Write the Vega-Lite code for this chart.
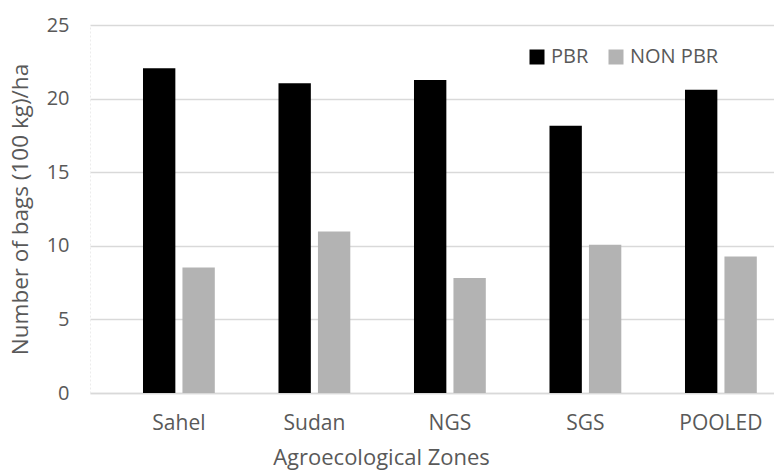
{
  "$schema": "https://vega.github.io/schema/vega-lite/v6.json",
  "autosize": {"type": "none"},
  "width": 684,
  "height": 368,
  "padding": {"left": 90, "top": 25, "right": 0, "bottom": 80},
  "background": "white",
  "config": {
    "font": "Open Sans",
    "view": {"stroke": null}
  },
  "data": {
    "values": [
      {"zone": "Sahel", "group": "PBR", "bags": 22.06},
      {"zone": "Sahel", "group": "NON PBR", "bags": 8.53},
      {"zone": "Sudan", "group": "PBR", "bags": 21.04},
      {"zone": "Sudan", "group": "NON PBR", "bags": 10.97},
      {"zone": "NGS", "group": "PBR", "bags": 21.27},
      {"zone": "NGS", "group": "NON PBR", "bags": 7.81},
      {"zone": "SGS", "group": "PBR", "bags": 18.15},
      {"zone": "SGS", "group": "NON PBR", "bags": 10.07},
      {"zone": "POOLED", "group": "PBR", "bags": 20.6},
      {"zone": "POOLED", "group": "NON PBR", "bags": 9.27}
    ]
  },
  "mark": {"type": "bar"},
  "encoding": {
    "x": {
      "field": "zone",
      "type": "nominal",
      "sort": ["Sahel", "Sudan", "NGS", "SGS", "POOLED"],
      "scale": {"paddingInner": 0.47, "paddingOuter": 0.259, "align": 0.755},
      "axis": {
        "title": "Agroecological Zones",
        "titleFont": "Open Sans",
        "titleFontSize": 22,
        "titleFontWeight": "normal",
        "titleColor": "#595959",
        "titleX": 291,
        "titleY": 54,
        "titleAlign": "center",
        "titleBaseline": "top",
        "labelAngle": 0,
        "labelFontSize": 21,
        "labelColor": "#595959",
        "labelPadding": 19,
        "ticks": false,
        "domainColor": "#d9d9d9",
        "domainWidth": 1.5
      }
    },
    "xOffset": {
      "field": "group",
      "type": "nominal",
      "sort": ["PBR", "NON PBR"],
      "scale": {"paddingInner": 0.18, "paddingOuter": 0}
    },
    "y": {
      "field": "bags",
      "type": "quantitative",
      "scale": {"domain": [0, 25]},
      "axis": {
        "title": "Number of bags (100 kg)/ha",
        "titleFontSize": 22.5,
        "titleFontWeight": "normal",
        "titleColor": "#595959",
        "titlePadding": 14,
        "values": [0, 5, 10, 15, 20, 25],
        "labelFontSize": 20,
        "labelColor": "#595959",
        "labelPadding": 21,
        "ticks": false,
        "domainColor": "#ececec",
        "domainDash": [2, 2],
        "gridColor": "#d9d9d9",
        "gridWidth": 1.5
      }
    },
    "color": {
      "field": "group",
      "type": "nominal",
      "sort": ["PBR", "NON PBR"],
      "scale": {"domain": ["PBR", "NON PBR"], "range": ["#000000", "#b3b3b3"]},
      "legend": {
        "title": null,
        "orient": "none",
        "legendX": 437,
        "legendY": 22,
        "direction": "horizontal",
        "symbolType": "square",
        "symbolSize": 225,
        "symbolStrokeWidth": 0,
        "labelFontSize": 20,
        "labelColor": "#595959",
        "labelOffset": 4,
        "columnPadding": 17,
        "padding": 0
      }
    }
  }
}
